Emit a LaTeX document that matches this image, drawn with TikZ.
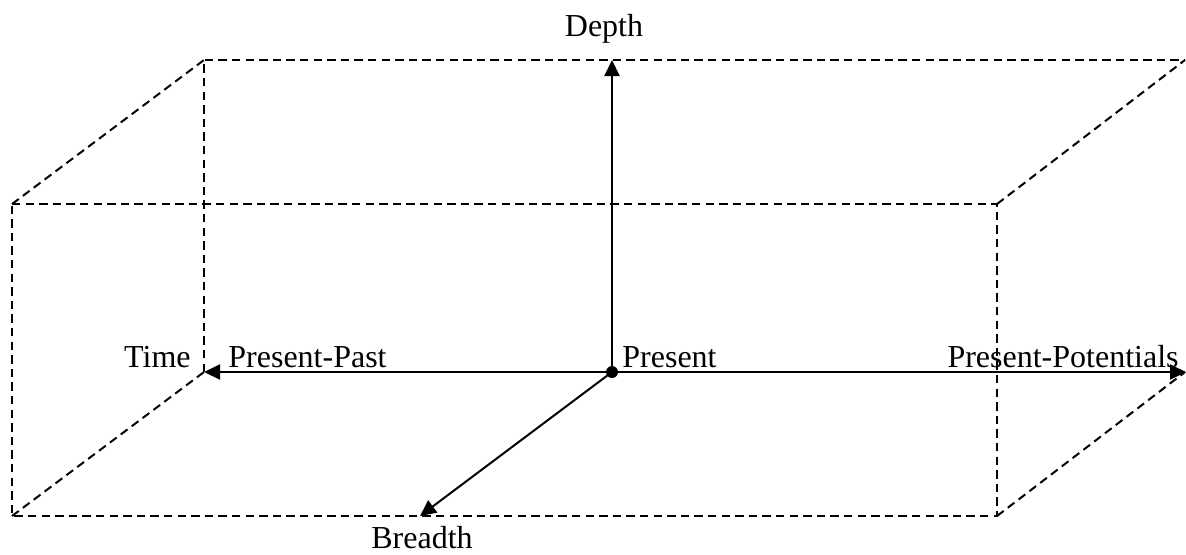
\documentclass[tikz,border=0pt]{standalone}
\usepackage{fontspec}
\setmainfont{Liberation Serif}
\usetikzlibrary{arrows.meta}
\begin{document}
\begin{tikzpicture}[x=0.5pt,y=-0.5pt,
  boxline/.style={line width=1pt, dash pattern=on 4.2pt off 2.6pt},
  axis/.style={line width=1pt, -{Triangle[length=8pt,width=7.5pt]}},
  lbl/.style={inner sep=0pt, font=\fontsize{16}{19}\selectfont}]
\useasboundingbox (0,0) rectangle (1186,554);
% box corners
\coordinate (fTL) at (12,204);
\coordinate (fTR) at (997,204);
\coordinate (fBL) at (12,516);
\coordinate (fBR) at (997,516);
\coordinate (bTL) at (204,60);
\coordinate (bTR) at (1185,60);
\coordinate (bBL) at (204,372);
\coordinate (bBR) at (1185,372);
% dashed box
\draw[boxline] (fTL) -- (fTR) -- (fBR) -- (fBL) -- cycle;
\draw[boxline] (bBL) -- (bTL) -- (bTR);
\draw[boxline] (fTL) -- (bTL);
\draw[boxline] (fTR) -- (bTR);
\draw[boxline] (fBL) -- (bBL);
\draw[boxline] (fBR) -- (bBR);
% axes
\node[circle, fill=black, inner sep=0pt, minimum size=6pt] (p) at (612,372) {};
\coordinate (depthEnd) at (612,60);
\coordinate (pastEnd) at (204,372);
\coordinate (potEnd) at (1186,372);
\coordinate (breadthEnd) at (420,516);
\draw[axis] (p.center) -- (depthEnd);
\draw[axis] (p.center) -- (pastEnd);
\draw[axis] (p.center) -- (potEnd);
\draw[axis] (p.center) -- (breadthEnd);
% labels
\node[lbl, anchor=base] (depth) at (604,36) {Depth};
\node[lbl, anchor=base east] (time) at (191,367) {Time};
\node[lbl, anchor=base west] (past) at (228,367) {Present-Past};
\node[lbl, anchor=base west] (present) at (622,367) {Present};
\node[lbl, anchor=base east] (pot) at (1179,367) {Present-Potentials};
\node[lbl, anchor=base] (breadth) at (422,548) {Breadth};
\end{tikzpicture}
\end{document}
